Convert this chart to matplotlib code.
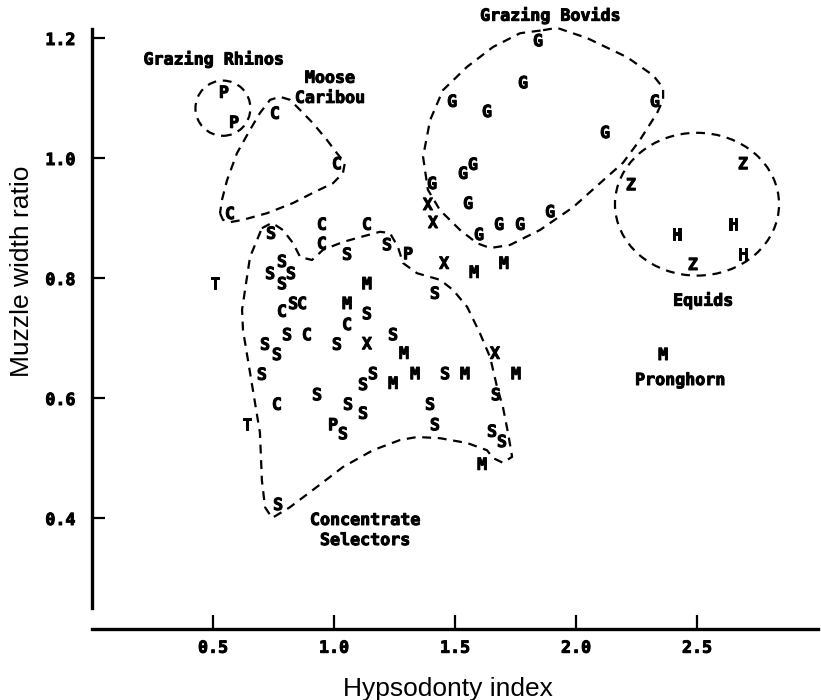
import matplotlib
matplotlib.use("Agg")
import matplotlib.pyplot as plt
import matplotlib.patheffects as pe
from matplotlib.patches import Ellipse

# ---------------------------------------------------------------------------
# DATA — letter codes and positions (hypsodonty index, muzzle width ratio)
# ---------------------------------------------------------------------------
rhino_letters = ["P", "P"]
rhino_x = [0.545, 0.587]
rhino_y = [1.112, 1.062]

caribou_letters = ["C", "C", "C"]
caribou_x = [0.756, 1.012, 0.570]
caribou_y = [1.077, 0.993, 0.910]

bovid_letters = ["G"] * 14
bovid_x = [1.843, 1.781, 1.488, 1.632, 2.326, 2.120, 1.574,
           1.533, 1.405, 1.554, 1.893, 1.599, 1.682, 1.769]
bovid_y = [1.198, 1.128, 1.097, 1.080, 1.097, 1.045, 0.992,
           0.977, 0.960, 0.927, 0.913, 0.875, 0.892, 0.892]

equid_letters = ["Z", "Z", "H", "H", "H", "Z"]
equid_x = [2.690, 2.227, 2.649, 2.417, 2.690, 2.483]
equid_y = [0.993, 0.958, 0.892, 0.875, 0.842, 0.825]

pronghorn_letters = ["M"]
pronghorn_x = [2.360]
pronghorn_y = [0.675]

other_letters = ["X", "X", "S", "C", "C", "C", "S", "S", "P", "X", "M", "M",
                 "T", "S", "S", "S", "S", "M", "C", "S", "C", "M", "S", "C",
                 "S", "C", "S", "S", "S", "X", "S", "M", "S", "X", "S", "S",
                 "S", "M", "M", "S", "M", "M", "S", "C", "S", "S", "S", "T",
                 "P", "S", "S", "S", "S", "S", "M", "S"]
other_x = [1.388, 1.409, 0.740, 0.950, 1.136, 0.950, 1.054, 1.219, 1.306,
           1.455, 1.579, 1.702, 0.508, 0.785, 0.736, 0.822, 0.785, 1.136,
           0.785, 0.831, 0.868, 1.054, 1.136, 1.054, 0.806, 0.888, 0.715,
           0.764, 1.012, 1.136, 1.244, 1.289, 1.417, 1.665, 0.702, 1.161,
           1.120, 1.244, 1.335, 1.459, 1.541, 1.752, 1.669, 0.764, 0.930,
           1.058, 1.120, 0.640, 0.996, 1.037, 1.397, 1.417, 1.653, 1.694,
           1.612, 0.769]
other_y = [0.925, 0.895, 0.877, 0.892, 0.892, 0.860, 0.842, 0.858, 0.843,
           0.827, 0.812, 0.827, 0.793, 0.830, 0.810, 0.810, 0.793, 0.793,
           0.747, 0.760, 0.760, 0.760, 0.743, 0.725, 0.708, 0.708, 0.692,
           0.675, 0.692, 0.693, 0.708, 0.677, 0.777, 0.677, 0.642, 0.643,
           0.625, 0.627, 0.643, 0.643, 0.643, 0.643, 0.608, 0.592, 0.608,
           0.592, 0.577, 0.558, 0.558, 0.543, 0.592, 0.558, 0.547, 0.530,
           0.492, 0.425]

# hand-drawn group outlines (data coordinates)
moose_x = [0.529, 0.541, 0.570, 0.624, 0.723, 0.831, 0.913, 0.996, 1.037,
           1.045, 1.012, 0.971, 0.913, 0.860, 0.818, 0.777, 0.736, 0.694,
           0.653, 0.599, 0.558, 0.537]
moose_y = [0.908, 0.897, 0.893, 0.897, 0.908, 0.925, 0.942, 0.958, 0.975,
           0.992, 1.008, 1.030, 1.058, 1.080, 1.097, 1.102, 1.097, 1.075,
           1.047, 1.008, 0.963, 0.930]

selector_x = [0.702, 0.744, 0.789, 0.831, 0.860, 0.909, 0.955, 1.037, 1.107,
              1.190, 1.231, 1.264, 1.285, 1.343, 1.438, 1.492, 1.550, 1.603,
              1.645, 1.674, 1.698, 1.719, 1.736, 1.698, 1.657, 1.632, 1.550,
              1.438, 1.343, 1.273, 1.161, 1.037, 0.930, 0.818, 0.744, 0.715,
              0.702, 0.694, 0.665, 0.624, 0.620, 0.653]
selector_y = [0.883, 0.892, 0.880, 0.858, 0.835, 0.830, 0.847, 0.860, 0.868,
              0.877, 0.875, 0.852, 0.825, 0.808, 0.797, 0.780, 0.752, 0.708,
              0.668, 0.618, 0.585, 0.542, 0.502, 0.492, 0.500, 0.513, 0.525,
              0.533, 0.535, 0.530, 0.513, 0.485, 0.452, 0.418, 0.400, 0.418,
              0.463, 0.542, 0.613, 0.713, 0.747, 0.835]

bovid_hull_x = [1.864, 1.921, 2.045, 2.211, 2.318, 2.360, 2.360, 2.335,
                2.264, 2.194, 2.099, 1.988, 1.851, 1.727, 1.645, 1.591,
                1.521, 1.438, 1.388, 1.368, 1.397, 1.450, 1.550, 1.657,
                1.769]
bovid_hull_y = [1.213, 1.217, 1.200, 1.168, 1.138, 1.117, 1.097, 1.075,
                1.030, 0.992, 0.958, 0.918, 0.880, 0.855, 0.850, 0.858,
                0.880, 0.913, 0.947, 1.002, 1.063, 1.113, 1.152, 1.185,
                1.208]

# circles: centre x, centre y, width, height
rhino_ring = [0.541, 1.083, 0.227, 0.092]
equid_ring = [2.500, 0.923, 0.678, 0.238]

# group captions
caption_text = ["Grazing Rhinos", "Moose\nCaribou", "Grazing Bovids",
                "Equids", "Pronghorn", "Concentrate\nSelectors"]
caption_x = [0.502, 0.983, 1.893, 2.525, 2.430, 1.128]
caption_y = [1.165, 1.117, 1.238, 0.763, 0.630, 0.380]

x_ticks = [0.5, 1.0, 1.5, 2.0, 2.5]
y_ticks = [0.4, 0.6, 0.8, 1.0, 1.2]

# ---------------------------------------------------------------------------
# FIGURE
# ---------------------------------------------------------------------------
MONO = "DejaVu Sans Mono"
SANS = "Liberation Sans"
HEAVY = [pe.withStroke(linewidth=0.7, foreground="black")]

fig = plt.figure(figsize=(8.21, 7.0), dpi=100)
ax = fig.add_axes([0.11206, 0.10143, 0.88429, 0.8957])
ax.set_xlim(0, 3.0)
ax.set_ylim(0.215, 1.26)

for s in ["top", "right"]:
    ax.spines[s].set_visible(False)
ax.spines["left"].set_linewidth(2.4)
ax.spines["bottom"].set_linewidth(2.4)
ax.spines["left"].set_bounds(0.25, 1.215)

ax.set_xticks(x_ticks)
ax.set_yticks(y_ticks)
ax.set_xticklabels([f"{v:.1f}" for v in x_ticks])
ax.set_yticklabels([f"{v:.1f}" for v in y_ticks])
ax.tick_params(axis="x", direction="in", length=10, width=1.6, pad=7)
ax.tick_params(axis="y", direction="in", length=9, width=1.6, pad=12)
for lab in ax.get_xticklabels() + ax.get_yticklabels():
    lab.set_fontfamily(MONO)
    lab.set_fontweight("bold")
    lab.set_fontsize(12)
    lab.set_path_effects(HEAVY)

ax.set_xlabel("Hypsodonty index", fontsize=19, family=SANS, va="center")
ax.xaxis.set_label_coords(0.4905, -0.0957)
ax.set_ylabel("Muzzle width ratio", fontsize=19, family=SANS, va="center")
ax.yaxis.set_label_coords(-0.0964, 0.57)

# letter markers
groups = [
    (rhino_letters, rhino_x, rhino_y),
    (caribou_letters, caribou_x, caribou_y),
    (bovid_letters, bovid_x, bovid_y),
    (equid_letters, equid_x, equid_y),
    (pronghorn_letters, pronghorn_x, pronghorn_y),
    (other_letters, other_x, other_y),
]
for letters, xs, ys in groups:
    for ch, x, y in zip(letters, xs, ys):
        ax.text(x, y, ch, ha="center", va="center_baseline", family=MONO,
                fontweight="bold", fontsize=12, path_effects=HEAVY)

# dashed outlines
dash = (0, (4, 3))
for hx, hy in [(moose_x, moose_y), (selector_x, selector_y),
               (bovid_hull_x, bovid_hull_y)]:
    ax.plot(hx + hx[:1], hy + hy[:1], color="black", lw=1.6, ls=dash,
            clip_on=False)

for cx, cy, w, h in [rhino_ring, equid_ring]:
    ax.add_patch(Ellipse((cx, cy), w, h, fill=False, ec="black", lw=1.6,
                         ls=dash, clip_on=False))

for txt, x, y in zip(caption_text, caption_x, caption_y):
    ax.text(x, y, txt, ha="center", va="center", family=MONO,
            fontweight="bold", fontsize=12, linespacing=1.15,
            path_effects=HEAVY)

fig.savefig("out.png", dpi=100)
